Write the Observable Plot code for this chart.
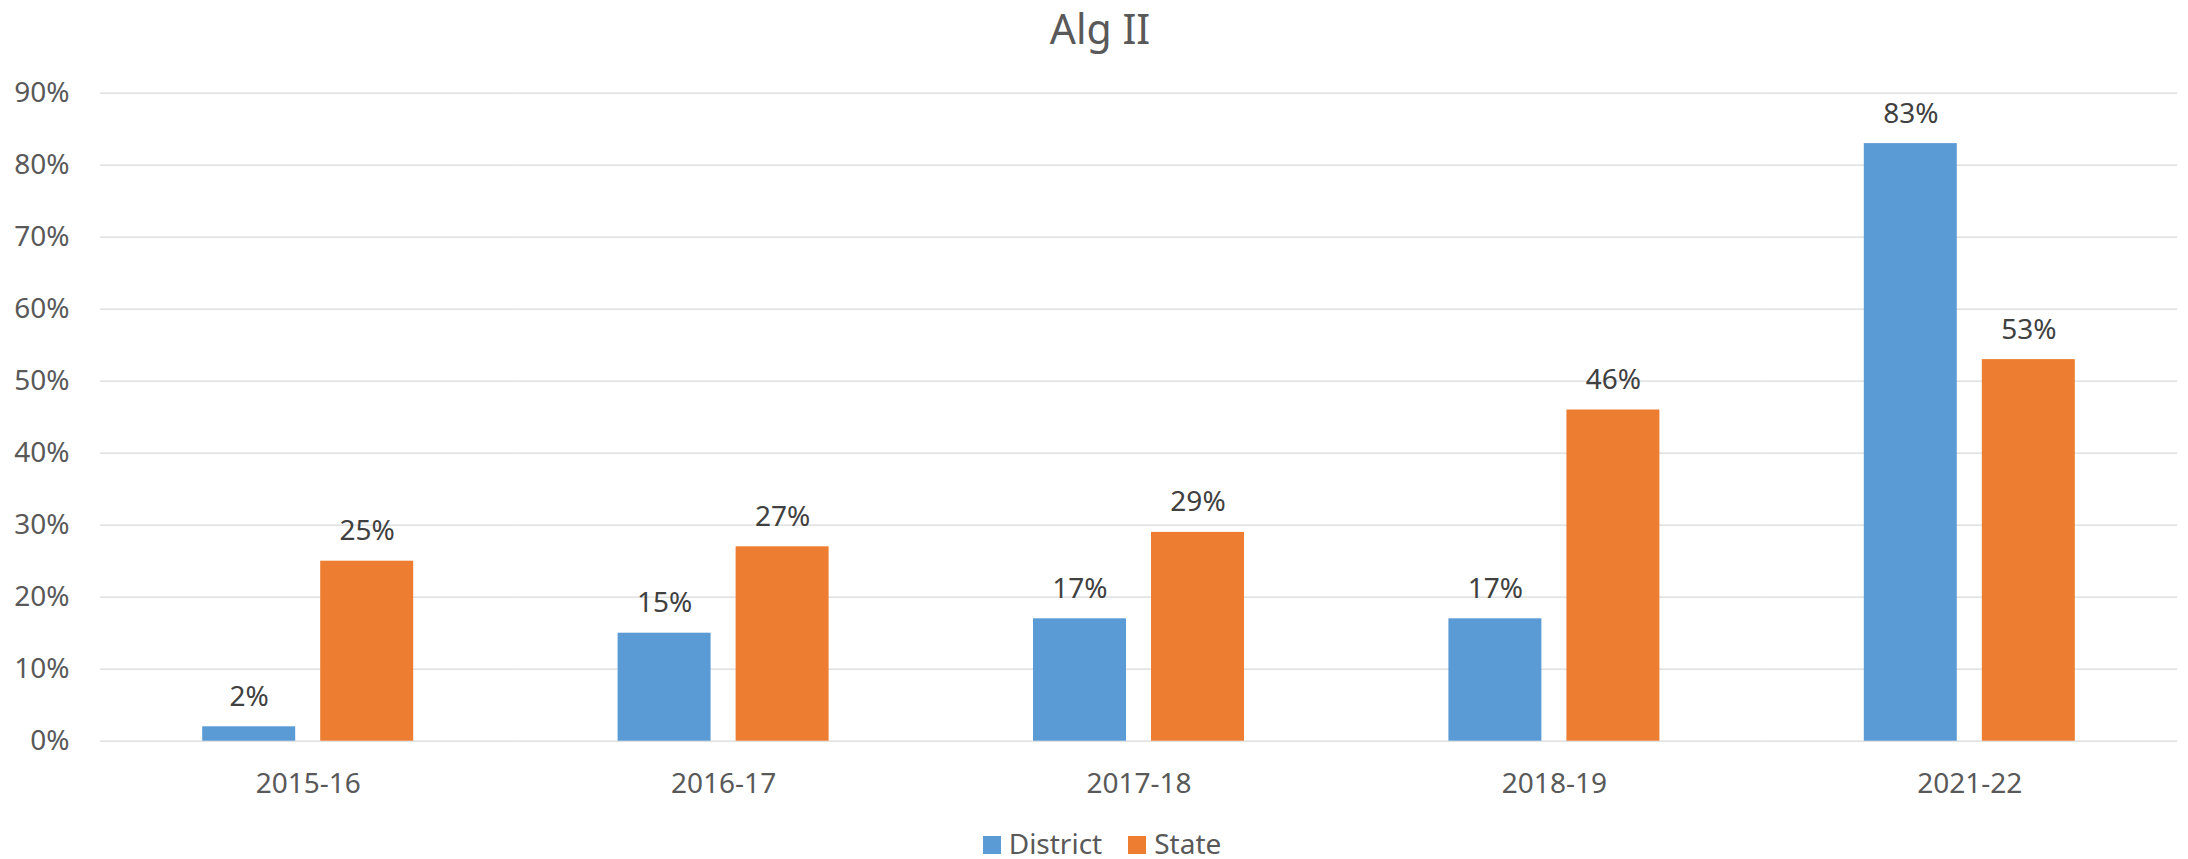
<!DOCTYPE html>
<html><head><meta charset="utf-8">
<script src="https://cdn.jsdelivr.net/npm/d3@7"></script>
<script src="https://cdn.jsdelivr.net/npm/@observablehq/plot@0.6"></script>
<style>
html,body{margin:0;padding:0;background:#fff;width:2188px;height:859px;overflow:hidden;font-family:"Noto Sans",sans-serif;}
#title{position:absolute;left:6px;top:0;width:2188px;text-align:center;font-size:41px;color:#595959;line-height:normal;margin:0;}
#chart{position:absolute;left:0;top:60px;}
#legend{position:absolute;left:8px;top:829px;width:2188px;height:28px;display:flex;justify-content:center;align-items:center;}
.lg-item{display:flex;align-items:center;font-size:28px;line-height:28px;height:28px;color:#595959;margin:0 13px;}
.lg-sw{width:18px;height:18px;margin-right:8px;position:relative;top:2px;}
</style></head><body>
<div id="title">Alg II</div>
<div id="chart"></div>
<div id="legend"></div>
<script>
const years = ["2015-16","2016-17","2017-18","2018-19","2021-22"];
const series = ["District","State"];
const districtValues = [2,15,17,17,83];
const stateValues = [25,27,29,46,53];
const seriesColors = ["#5B9BD5","#ED7D31"];
const yTicks = [0,10,20,30,40,50,60,70,80,90];

const data = years.flatMap((year,i)=>[
  {year, series:"District", value: districtValues[i]},
  {year, series:"State", value: stateValues[i]}
]);

const plot = Plot.plot({
  width:2188, height:760, marginLeft:100, marginRight:11, marginTop:32.7, marginBottom:79.3,
  style:{fontFamily:'"Noto Sans", sans-serif', fontSize:"28px", color:"#595959", background:"#fff"},
  fx:{domain:years, padding:0, round:false, axis:"bottom", label:null, tickSize:0, tickPadding:32},
  x:{domain:series, paddingInner:0.212, paddingOuter:0.866, round:false, axis:null},
  y:{domain:[0,90], ticks:yTicks, tickFormat:d=>d+"%", tickSize:0, tickPadding:31, label:null},
  color:{domain:series, range:seriesColors},
  marks:[
    Plot.ruleY(yTicks, {stroke:"#d9d9d9", strokeWidth:1.3}),
    Plot.barY(data,{fx:"year", x:"series", y:"value", fill:"series"}),
    Plot.text(data,{fx:"year", x:"series", y:"value", text:d=>d.value+"%", dy:-30, fill:"#404040"})
  ]
});
document.getElementById("chart").appendChild(plot);

const color = plot.scale("color");
const lg = document.getElementById("legend");
color.domain.forEach((s,i)=>{
  const item = document.createElement("div");
  item.className = "lg-item";
  const sw = document.createElement("span");
  sw.className = "lg-sw";
  sw.style.background = color.range[i];
  const t = document.createElement("span");
  t.textContent = s;
  item.appendChild(sw); item.appendChild(t);
  lg.appendChild(item);
});
</script>
</body></html>
